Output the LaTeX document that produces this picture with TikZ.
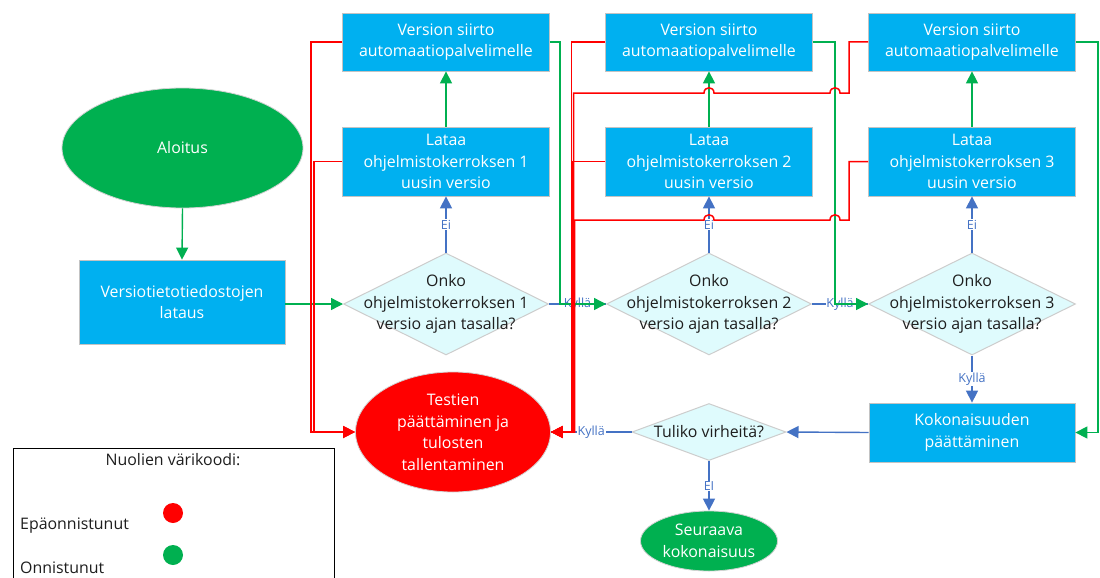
\documentclass[tikz,border=0pt]{standalone}
\usepackage{fontspec}
\setmainfont{Open Sans}
\usetikzlibrary{arrows.meta,shapes.geometric}
\definecolor{boxblue}{RGB}{0,176,240}
\definecolor{okgreen}{RGB}{0,176,80}
\definecolor{failred}{RGB}{255,0,0}
\definecolor{qfill}{RGB}{223,251,253}
\definecolor{qedge}{RGB}{205,205,205}
\definecolor{flowblue}{RGB}{68,114,196}
\definecolor{edgegray}{RGB}{195,195,195}
\definecolor{qtextcol}{RGB}{30,30,30}

\begin{document}
\begin{tikzpicture}[x=1pt,y=-1pt,
  every node/.style={font=\fontsize{15.9}{21.5}\selectfont},
  stepbox/.style={rectangle, fill=boxblue, draw=edgegray, line width=0.8pt,
    text=white, align=center, minimum width=207pt, inner sep=0pt},
  qshape/.style={diamond, fill=qfill, draw=qedge, line width=1pt, inner sep=0pt},
  qtext/.style={align=center, text=qtextcol, inner sep=0pt},
  endshape/.style={ellipse, draw=gray!35, line width=0.8pt, inner sep=0pt},
  endtext/.style={align=center, text=white, inner sep=0pt},
  tip/.style={-{Triangle[length=12pt,width=12pt]}},
  okline/.style={draw=okgreen, line width=1.4pt},
  failline/.style={draw=failred, line width=1.5pt},
  flowline/.style={draw=flowblue, line width=1.4pt},
  answer/.style={font=\fontsize{12.5}{14}\selectfont, text=flowblue, fill=white, inner sep=0.8pt},
]
\useasboundingbox (0,0) rectangle (1100,578);
\clip (0,0) rectangle (1100,578);
\fill[white] (0,0) rectangle (1100,578);

% start and file loading
\node[endshape, fill=okgreen, minimum width=241pt, minimum height=120pt] (alo) at (182.5,148) {};
\node[endtext] (alot) at (alo) {Aloitus};
\node[stepbox, minimum width=206pt, minimum height=84pt] (ver) at (182,302) {Versiotietotiedostojen\\lataus};

% three layers: transfer, download, question
\node[stepbox, minimum height=58pt] (v1) at (446,42) {Version siirto\\automaatiopalvelimelle};
\node[stepbox, minimum height=69pt] (l1) at (446,161.5) {Lataa\\ohjelmistokerroksen 1\\uusin versio};
\node[qshape, minimum width=205pt, minimum height=102pt] (d1) at (446,304) {};
\node[qtext] (d1t) at (d1) {Onko\\ohjelmistokerroksen 1\\versio ajan tasalla?};

\node[stepbox, minimum height=58pt] (v2) at (709,42) {Version siirto\\automaatiopalvelimelle};
\node[stepbox, minimum height=69pt] (l2) at (709,161.5) {Lataa\\ohjelmistokerroksen 2\\uusin versio};
\node[qshape, minimum width=205pt, minimum height=102pt] (d2) at (709,304) {};
\node[qtext] (d2t) at (d2) {Onko\\ohjelmistokerroksen 2\\versio ajan tasalla?};

\node[stepbox, minimum height=58pt] (v3) at (972,42) {Version siirto\\automaatiopalvelimelle};
\node[stepbox, minimum height=69pt] (l3) at (972,161.5) {Lataa\\ohjelmistokerroksen 3\\uusin versio};
\node[qshape, minimum width=207pt, minimum height=102pt] (d3) at (972,304) {};
\node[qtext] (d3t) at (d3) {Onko\\ohjelmistokerroksen 3\\versio ajan tasalla?};

% finishing
\node[stepbox, minimum width=206pt, minimum height=59pt] (kok) at (972,432.5) {Kokonaisuuden\\päättäminen};
\node[qshape, minimum width=154pt, minimum height=57pt] (tul) at (709,432) {};
\node[qtext] (tult) at (tul) {Tuliko virheitä?};
\node[endshape, fill=failred, minimum width=195pt, minimum height=120pt] (tes) at (453,432) {};
\node[endtext] (test) at (tes) {Testien\\päättäminen ja\\tulosten\\tallentaminen};
\node[endshape, fill=okgreen, minimum width=137pt, minimum height=60pt] (seu) at (709,541) {};
\node[endtext] (seut) at (seu) {Seuraava\\kokonaisuus};

% legend
\node[draw=black, line width=1pt, minimum width=321pt, minimum height=160pt, anchor=north west, inner sep=0pt] (leg) at (13,448) {};
\node[text=qtextcol] (legt) at (173,460) {Nuolien värikoodi:};
\node[text=qtextcol, anchor=west, inner sep=0pt] (legf) at (20,526) {Epäonnistunut};
\node[text=qtextcol, anchor=west, inner sep=0pt] (legs) at (20,568) {Onnistunut};
\node[circle, fill=failred, minimum size=20pt, inner sep=0pt] (dotf) at (173,513) {};
\node[circle, fill=okgreen, minimum size=20pt, inner sep=0pt] (dots) at (173,555) {};

% answers of the questions
\draw[flowline, tip] (d1.north) -- node[answer] {Ei} (l1.south);
\draw[flowline, tip] (d2.north) -- node[answer] {Ei} (l2.south);
\draw[flowline, tip] (d3.north) -- node[answer] {Ei} (l3.south);
\draw[flowline] (d1.east) -- node[answer] {Kyllä} (d2.west);
\draw[flowline] (d2.east) -- node[answer] {Kyllä} (d3.west);
\draw[flowline, tip] (d3.south) -- node[answer] {Kyllä} (kok.north);
\draw[flowline, tip] (kok.west) -- (tul.east);
\draw[flowline] (tul.west) -- node[answer] {Kyllä} (tes.east);
\draw[flowline, tip] (tul.south) -- node[answer] {EI} (seu.north);

% successful steps
\draw[okline, tip] (alo.south) -- (ver.north);
\draw[okline, tip] (ver.east |- d1.west) -- (d1.west);
\draw[okline, tip] (l1.north) -- (v1.south);
\draw[okline, tip] (l2.north) -- (v2.south);
\draw[okline, tip] (l3.north) -- (v3.south);
\draw[okline, tip] (v1.east) -- (560,42) -- (560,304) -- (d2.west);
\draw[okline, tip] (v2.east) -- (835,42) -- (835,304) -- (d3.west);
\draw[okline, tip] (v3.east) -- (1098,42) -- (1098,432.5) -- (kok.east);

% failed steps
\draw[failline, tip] (v1.west) -- (311,42) -- (311,432) -- (tes.west);
\draw[failline, tip] (l1.west) -- (314,161.5) -- (314,432) -- (tes.west);
\draw[failline, tip] (v2.west) -- (571.5,42) -- (571.5,432) -- (tes.east);
\draw[failline, tip] (l2.west) -- (572.5,161.5) -- (572.5,432) -- (tes.east);
\draw[failline, tip] (v3.west) -- (849,42) -- (849,93) -- (840,93)
  .. controls (840,86) and (830,86) .. (830,93) -- (714,93)
  .. controls (714,86) and (704,86) .. (704,93) -- (573.5,93) -- (573.5,432) -- (tes.east);
\draw[failline, tip] (l3.west) -- (849,161.5) -- (849,220) -- (840,220)
  .. controls (840,213) and (830,213) .. (830,220) -- (714,220)
  .. controls (714,213) and (704,213) .. (704,220) -- (574.5,220) -- (574.5,432) -- (tes.east);
\end{tikzpicture}
\end{document}
